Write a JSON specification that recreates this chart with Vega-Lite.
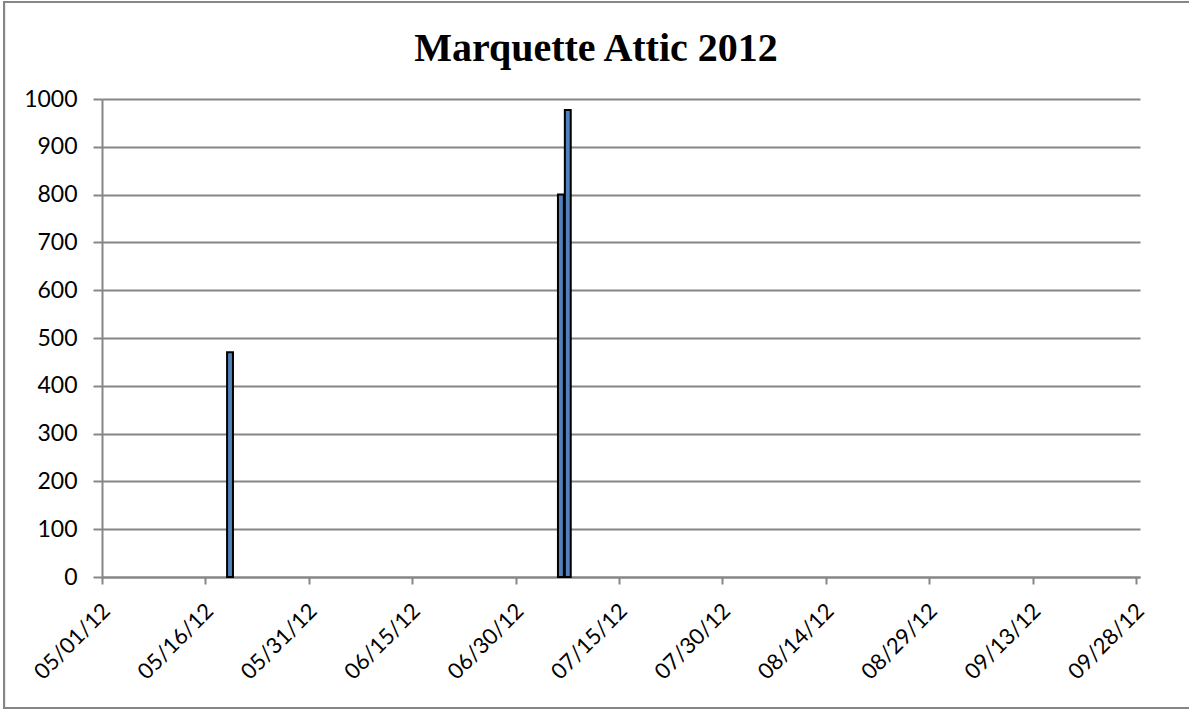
{
  "$schema": "https://vega.github.io/schema/vega-lite/v6.json",
  "autosize": "none",
  "padding": {"left": 102, "top": 99, "right": 49, "bottom": 133},
  "width": 1038,
  "height": 478,
  "background": "white",
  "title": {
    "text": "Marquette Attic 2012",
    "font": "Liberation Serif",
    "fontSize": 40,
    "fontWeight": "bold",
    "color": "#000000",
    "anchor": "middle",
    "baseline": "alphabetic",
    "offset": 0,
    "dy": 100,
    "dx": -25
  },
  "data": {
    "values": [
      {"date": "2012-05-19", "value": 470},
      {"date": "2012-07-06", "value": 800},
      {"date": "2012-07-07", "value": 977}
    ]
  },
  "layer": [
    {
      "mark": {"type": "bar", "fill": "#4F81BD", "stroke": "#000000", "strokeWidth": 2},
      "encoding": {
        "x": {
          "field": "date",
          "timeUnit": "utcyearmonthdate",
          "type": "temporal",
          "scale": {
            "type": "utc",
            "domain": [
              {"year": 2012, "month": 5, "date": 1, "utc": true},
              {"year": 2012, "month": 9, "date": 28, "hours": 14, "utc": true}
            ],
            "nice": false
          },
          "axis": {
            "title": null,
            "values": [
              {"year": 2012, "month": 5, "date": 1, "utc": true},
              {"year": 2012, "month": 5, "date": 16, "utc": true},
              {"year": 2012, "month": 5, "date": 31, "utc": true},
              {"year": 2012, "month": 6, "date": 15, "utc": true},
              {"year": 2012, "month": 6, "date": 30, "utc": true},
              {"year": 2012, "month": 7, "date": 15, "utc": true},
              {"year": 2012, "month": 7, "date": 30, "utc": true},
              {"year": 2012, "month": 8, "date": 14, "utc": true},
              {"year": 2012, "month": 8, "date": 29, "utc": true},
              {"year": 2012, "month": 9, "date": 13, "utc": true},
              {"year": 2012, "month": 9, "date": 28, "utc": true}
            ],
            "format": "%m/%d/%y",
            "labelAngle": -45,
            "labelAlign": "right",
            "labelBaseline": "middle",
            "labelOffset": 4,
            "labelPadding": 23,
            "labelFont": "Lato",
            "labelFontSize": 22,
            "labelColor": "#000000",
            "labelOverlap": false,
            "labelFlush": false,
            "grid": false,
            "domainColor": "#868686",
            "domainWidth": 2,
            "tickColor": "#868686",
            "tickWidth": 2,
            "tickSize": 7
          }
        },
        "y": {
          "field": "value",
          "type": "quantitative",
          "scale": {"domain": [0, 1000], "nice": false, "zero": true},
          "axis": {
            "title": null,
            "values": [0, 100, 200, 300, 400, 500, 600, 700, 800, 900, 1000],
            "format": "d",
            "labelFont": "Lato",
            "labelFontSize": 23,
            "labelColor": "#000000",
            "labelPadding": 16,
            "labelBaseline": "middle",
            "labelOverlap": false,
            "labelFlush": false,
            "grid": true,
            "gridColor": "#868686",
            "gridWidth": 2,
            "domainColor": "#868686",
            "domainWidth": 2,
            "tickColor": "#868686",
            "tickWidth": 2,
            "tickSize": 9
          }
        }
      }
    },
    {
      "mark": {"type": "rect", "fill": null, "stroke": "#868686", "strokeWidth": 2, "clip": false},
      "encoding": {
        "x": {"datum": {"year": 2012, "month": 4, "date": 16, "hours": 19, "utc": true}, "type": "temporal"},
        "x2": {"datum": {"year": 2012, "month": 10, "date": 12, "utc": true}},
        "y": {"datum": 1203, "type": "quantitative"},
        "y2": {"datum": -274}
      }
    }
  ],
  "config": {
    "view": {"stroke": null},
    "axis": {"gridOpacity": 1}
  }
}
